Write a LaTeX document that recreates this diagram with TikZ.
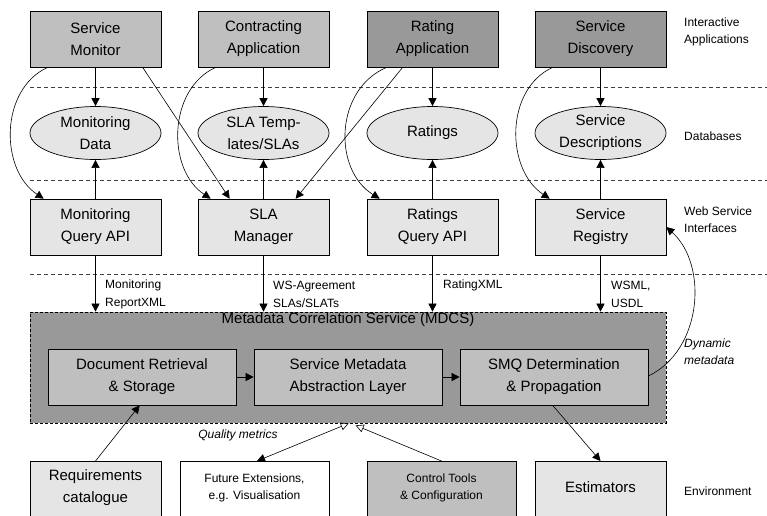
\documentclass[tikz,border=0pt]{standalone}
\usepackage{fontspec}
\setmainfont{Liberation Sans}
\usetikzlibrary{arrows.meta,shapes.geometric,calc}
\definecolor{midgray}{gray}{0.75}
\definecolor{darkgraytwo}{gray}{0.6}
\definecolor{lightgraytwo}{gray}{0.9}
\begin{document}
\begin{tikzpicture}[x=1pt,y=-1pt,
  font=\fontsize{15}{22}\selectfont,
  box/.style={draw, line width=0.7pt, minimum width=131pt, minimum height=56pt, align=center, inner sep=0pt},
  db/.style={ellipse, draw, line width=0.7pt, fill=lightgraytwo, minimum width=131pt, minimum height=53pt, inner sep=0pt, align=center},
  bbox/.style={draw, line width=0.7pt, minimum width=131pt, align=center, inner sep=0pt, anchor=north},
  arr/.style={-{Triangle[length=8pt,width=8pt]}, line width=0.6pt},
  sepline/.style={dash pattern=on 4pt off 3pt, line width=0.6pt, black!75},
  small/.style={font=\fontsize{12}{18}\selectfont, align=left, inner sep=0pt},
  rowlbl/.style={font=\fontsize{12}{17}\selectfont, align=left, inner sep=0pt, anchor=west},
  ital/.style={font=\fontsize{12}{17}\itshape\selectfont, align=left, inner sep=0pt}
]
\useasboundingbox (0,0) rectangle (767,515);
\clip (0,0) rectangle (767,515);

% layer separators
\draw[sepline] (30,87) -- (767,87);
\draw[sepline] (30,180) -- (767,180);
\draw[sepline] (30,274) -- (767,274);

% interactive applications
\node[box, fill=midgray] (sm) at (95.5,39) {Service\\Monitor};
\node[box, fill=midgray] (ca) at (263.5,39) {Contracting\\Application};
\node[box, fill=darkgraytwo] (ra) at (432.5,39) {Rating\\Application};
\node[box, fill=darkgraytwo] (sd) at (600.5,39) {Service\\Discovery};

% databases
\node[db] (md) at (95.5,133) {Monitoring\\Data};
\node[db] (st) at (263.5,133) {SLA Temp-\\lates/SLAs};
\node[db] (rt) at (432.5,133) {Ratings};
\node[db] (sdesc) at (600.5,133) {Service\\Descriptions};

% web service interfaces
\node[box, fill=lightgraytwo] (mq) at (95.5,227) {Monitoring\\Query API};
\node[box, fill=lightgraytwo] (sla) at (263.5,227) {SLA\\Manager};
\node[box, fill=lightgraytwo] (rq) at (432.5,227) {Ratings\\Query API};
\node[box, fill=lightgraytwo] (sr) at (600.5,227) {Service\\Registry};

% MDCS
\node[draw, dashed, dash pattern=on 3pt off 2pt, line width=0.7pt, fill=darkgraytwo, minimum width=636pt, minimum height=111pt, inner sep=0pt] (mdcs) at (348,367.5) {};
\node[inner sep=0pt] (mdcst) at (348,320) {Metadata Correlation Service (MDCS)};
\node[box, fill=midgray, minimum width=188pt] (doc) at (142,377) {Document Retrieval\\\& Storage};
\node[box, fill=midgray, minimum width=188pt] (sma) at (348,377) {Service Metadata\\Abstraction Layer};
\node[box, fill=midgray, minimum width=188pt] (smq) at (554,377) {SMQ Determination\\\& Propagation};

% environment
\node[bbox, fill=lightgraytwo, text height=41pt, text depth=80pt] (req) at (95.5,461) {Requirements\\catalogue};
\node[bbox, fill=white, minimum width=149pt, font=\fontsize{12}{17}\selectfont, text height=38pt, text depth=80pt] (fe) at (254.5,461) {Future Extensions,\\e.g. Visualisation};
\node[bbox, fill=midgray, minimum width=149pt, font=\fontsize{12}{17}\selectfont, text height=38pt, text depth=80pt] (ct) at (441.5,461) {Control Tools\\\& Configuration};
\node[bbox, fill=lightgraytwo, text height=31pt, text depth=80pt] (est) at (600.5,461) {Estimators};

% row labels
\node[rowlbl] (l1) at (684,32) {Interactive\\Applications};
\node[rowlbl] (l2) at (684,136) {Databases};
\node[rowlbl] (l3) at (684,219.5) {Web Service\\Interfaces};
\node[rowlbl] (l4) at (684,491) {Environment};

% vertical arrows to databases
\draw[arr] (sm.south) -- (md.north);
\draw[arr] (ca.south) -- (st.north);
\draw[arr] (ra.south) -- (rt.north);
\draw[arr] (sd.south) -- (sdesc.north);
\draw[arr] (mq.north) -- (md.south);
\draw[arr] (sla.north) -- (st.south);
\draw[arr] (rq.north) -- (rt.south);
\draw[arr] (sr.north) -- (sdesc.south);

% curved arrows from apps to interfaces
\draw[arr] ($(sm.south west)+(18,0)$) .. controls +(-48,22) and +(-44,-29) .. ($(mq.north west)+(14,0)$);
\draw[arr] ($(ca.south west)+(18,0)$) .. controls +(-48,22) and +(-44,-29) .. ($(sla.north west)+(13,0)$);
\draw[arr] ($(ra.south west)+(20,0)$) .. controls +(-52,22) and +(-47,-29) .. ($(rq.north west)+(13,0)$);
\draw[arr] ($(sd.south west)+(18,0)$) .. controls +(-48,22) and +(-44,-29) .. ($(sr.north west)+(15,0)$);
\draw[arr] ($(sm.south west)+(113,0)$) -- ($(sla.north west)+(32,0)$);
\draw[arr] ($(ra.south west)+(36,0)$) -- ($(sla.north west)+(98,0)$);

% interfaces to MDCS
\draw[arr] (mq.south) -- (mq.south |- mdcs.north);
\draw[arr] (sla.south) -- (sla.south |- mdcs.north);
\draw[arr] (rq.south) -- (rq.south |- mdcs.north);
\draw[arr] (sr.south) -- (sr.south |- mdcs.north);
\node[small, anchor=west] (t1) at (105,294) {Monitoring\\ReportXML};
\node[small, anchor=west] (t2) at (273,294) {WS-Agreement\\SLAs/SLATs};
\node[small, anchor=west] (t3) at (443,285) {RatingXML};
\node[small, anchor=west] (t4) at (611,294) {WSML,\\USDL};

% inside MDCS
\draw[arr] (doc.east) -- (sma.west);
\draw[arr] (sma.east) -- (smq.west);

% dynamic metadata
\draw[arr] ($(smq.east)+(0,-1)$) .. controls +(54,-26) and +(42,38) .. (sr.east);
\node[ital, anchor=west] (dm) at (684,351.5) {Dynamic\\metadata};

% environment connections
\draw[arr] (req.north) -- ($(doc.south west)+(92,0)$);
\draw[{Triangle[open,length=8pt,width=8pt]}-{Triangle[length=8pt,width=8pt]}, line width=0.6pt] ($(mdcs.south west)+(319,0)$) -- ($(fe.north)+(2.5,0)$);
\draw[-{Triangle[open,length=8pt,width=8pt]}, line width=0.6pt] (ct.north) -- ($(mdcs.south west)+(326,2)$);
\draw[arr] ($(smq.south west)+(93,0)$) -- (est.north);
\node[ital] (qm) at (238,435) {Quality metrics};
\end{tikzpicture}
\end{document}
